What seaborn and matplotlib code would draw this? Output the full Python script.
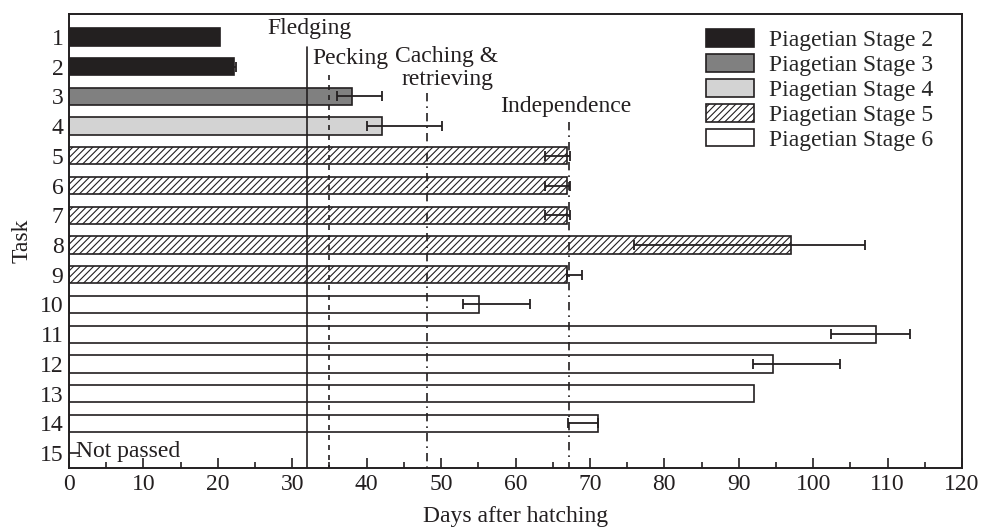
import numpy as np
import pandas as pd
import matplotlib
matplotlib.use("Agg")
import matplotlib.pyplot as plt
from matplotlib.patches import Patch
import seaborn as sns

# ==============================================================================
#  Data
# ==============================================================================
tasks   = [1, 2, 3, 4, 5, 6, 7, 8, 9, 10, 11, 12, 13, 14]
days    = [20.3, 22.2, 38.0, 42.1, 66.9, 66.9, 66.9, 97.0, 66.9, 55.1, 108.5, 94.6, 92.0, 71.1]
err_lo  = [np.nan, 22.0, 36.0, 40.1, 64.0, 64.0, 64.0, 75.9, 66.9, 53.0, 102.4, 91.9, np.nan, 67.0]
err_hi  = [np.nan, 22.4, 42.1, 50.1, 67.3, 67.3, 67.3, 107.0, 69.0, 62.0, 113.0, 103.6, np.nan, 71.1]
stages  = [2, 2, 3, 4, 5, 5, 5, 5, 5, 6, 6, 6, 6, 6]

stage_names  = ["Piagetian Stage 2", "Piagetian Stage 3", "Piagetian Stage 4",
                "Piagetian Stage 5", "Piagetian Stage 6"]
stage_colors = ["#231f20", "#808080", "#d3d3d3", "white", "white"]

events      = ["Fledging", "Pecking", "Caching &\nretrieving", "Independence"]
event_days  = [32.0, 35.0, 48.1, 67.2]
event_top   = [1.34, 2.28, 2.88, 3.85]
event_style = ["-", (0, (3, 3)), (0, (5, 3, 1, 3)), (0, (5, 3, 1, 3))]

INK = "#231f20"
FS = 17

df = pd.DataFrame({"task": tasks, "days": days,
                   "stage": [stage_names[s - 2] for s in stages]})

# ==============================================================================
#  Plot
# ==============================================================================
sns.set_theme(style="ticks")
plt.rcParams["font.family"] = ["Liberation Serif", "DejaVu Serif"]
plt.rcParams["hatch.linewidth"] = 0.8
plt.rcParams["hatch.color"] = INK

fig = plt.figure(figsize=(9.82, 5.29), dpi=100)
ax = fig.add_axes([0.0703, 0.1153, 0.9093, 0.8582])

sns.barplot(data=df, x="days", y="task", hue="stage", hue_order=stage_names,
            palette=dict(zip(stage_names, stage_colors)), orient="h",
            native_scale=True, dodge=False, width=0.58, errorbar=None,
            edgecolor=INK, linewidth=1.2, legend=False, ax=ax)

# hatch for stage 5
for cont, name in zip(ax.containers, stage_names):
    if name == "Piagetian Stage 5":
        for bar in cont:
            bar.set_hatch("/////")

# asymmetric error bars
d = np.array(days)
xerr = np.vstack([d - np.array(err_lo), np.array(err_hi) - d])
ax.errorbar(d, tasks, xerr=xerr, fmt="none", ecolor=INK, elinewidth=1.3,
            capsize=3.5, capthick=1.3, zorder=5)

# event lines
for name, x, top, ls in zip(events, event_days, event_top, event_style):
    ax.plot([x, x], [top, 15.5], color=INK, linestyle=ls, linewidth=1.2, zorder=4)

ax.text(32.3, 0.72, "Fledging", ha="center", va="center", fontsize=FS, color=INK)
ax.text(37.8, 1.72, "Pecking", ha="center", va="center", fontsize=FS, color=INK)
ax.text(50.8, 2.05, "Caching &\nretrieving", ha="center", va="center", fontsize=FS,
        color=INK, linespacing=1.1)
ax.text(66.7, 3.35, "Independence", ha="center", va="center", fontsize=FS, color=INK)
ax.text(1.0, 14.95, "Not passed", ha="left", va="center", fontsize=FS, color=INK)

# axes styling
ax.set_xlim(0, 120)
ax.set_ylim(15.5, 0.23)
ax.set_xticks(np.arange(0, 121, 10))
ax.set_xticks(np.arange(5, 120, 10), minor=True)
ax.set_yticks(range(1, 16))
ax.set_yticklabels([str(i) for i in range(1, 16)])
ax.tick_params(axis="both", which="major", direction="in", length=7, width=1.2,
               labelsize=FS, colors=INK, pad=4)
ax.tick_params(axis="x", which="minor", direction="in", length=4, width=1.2, colors=INK)
ax.tick_params(top=False, right=False)
for sp in ax.spines.values():
    sp.set_color(INK)
    sp.set_linewidth(1.4)

ax.set_xlabel("Days after hatching", fontsize=FS, color=INK, labelpad=8)
ax.set_ylabel("Task", fontsize=FS, color=INK, labelpad=5)

handles = [Patch(facecolor=c, edgecolor=INK, linewidth=1.2,
                 hatch="/////" if n == "Piagetian Stage 5" else None)
           for n, c in zip(stage_names, stage_colors)]
ax.legend(handles=handles, labels=stage_names, loc="upper right",
          bbox_to_anchor=(0.985, 1.0), frameon=False, fontsize=FS,
          handlelength=2.0, handleheight=0.75, handletextpad=0.65,
          labelspacing=0.13, borderaxespad=0.25)

plt.savefig("out.png", dpi=100)
plt.close(fig)
